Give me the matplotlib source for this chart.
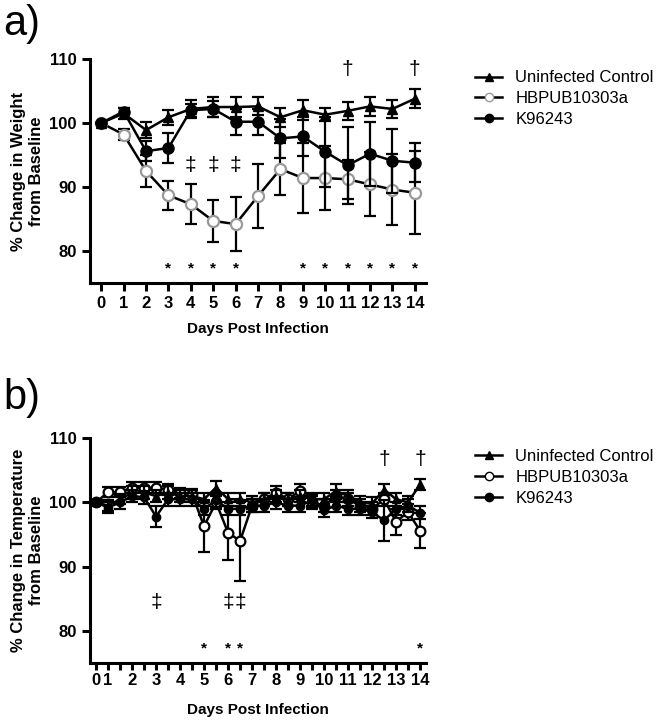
import numpy as np
import matplotlib.pyplot as plt
from matplotlib.lines import Line2D

plt.rcParams['font.family'] = ['Liberation Sans', 'DejaVu Sans']

# =========================================================
# Data: panel a (weight, daily)
# =========================================================
days_a = np.arange(0, 15)

ctrl_w = [100, 101.5, 98.9, 100.9, 102.2, 102.5, 102.5, 102.6, 100.9, 102.0, 101.3, 101.9, 102.6, 102.2, 103.8]
ctrl_w_err = [0, 0.8, 1.3, 1.2, 1.4, 1.6, 1.6, 1.4, 1.5, 1.6, 1.0, 1.4, 1.5, 1.4, 1.5]

hbp_w = [100, 98.2, 92.5, 88.7, 87.3, 84.7, 84.2, 88.6, 92.8, 91.4, 91.4, 91.2, 90.4, 89.6, 89.1]
hbp_w_err = [0, 0.8, 2.5, 2.3, 3.1, 3.3, 4.2, 5.0, 4.0, 5.5, 5.0, 3.0, 5.0, 5.5, 6.5]

k96_w = [100, 101.8, 95.6, 96.1, 102.0, 102.2, 100.2, 100.2, 97.6, 97.9, 95.5, 93.4, 95.2, 94.1, 93.8]
k96_w_err = [0, 0.6, 1.6, 2.4, 1.0, 1.3, 2.0, 2.0, 3.0, 3.0, 5.5, 6.0, 5.0, 5.0, 3.0]

dagger_a = [11, 14]
ddagger_a = [4, 5, 6]
star_a = [3, 4, 5, 6, 9, 10, 11, 12, 13, 14]

# =========================================================
# Data: panel b (temperature, twice daily)
# =========================================================
idx_b = np.arange(0, 28)
tick_lab_b = ["0", "1", "2", "3", "4", "5", "6", "7", "8", "9", "10", "11", "12", "13", "14"]
tick_pos_b = [0, 1, 3, 5, 7, 9, 11, 13, 15, 17, 19, 21, 23, 25, 27]

ctrl_t = [100, 99.5, 100.5, 101.5, 101.5, 101.0, 101.5, 101.0, 101.0, 100.5, 102.3, 100.5, 100.5, 100.0,
          100.5, 101.0, 100.5, 101.0, 100.5, 100.5, 101.8, 101.0, 100.0, 99.8, 102.0, 100.5, 100.0, 102.8]
ctrl_t_err = [0.3, 0.8, 0.8, 1.0, 1.0, 1.0, 1.0, 1.0, 1.0, 1.0, 1.0, 1.0, 1.0, 1.0,
              1.0, 1.0, 1.0, 1.0, 1.0, 1.0, 1.0, 1.0, 1.0, 1.0, 0.8, 1.0, 1.0, 0.8]

hbp_t = [100, 101.6, 101.6, 102.3, 102.3, 102.3, 102.0, 101.5, 101.3, 96.3, 100.0, 95.3, 94.0, 99.5,
         100.5, 101.5, 100.5, 101.8, 100.0, 99.5, 101.0, 100.5, 99.5, 99.0, 100.5, 97.0, 98.5, 95.6]
hbp_t_err = [0.3, 0.8, 0.8, 0.8, 0.8, 0.8, 0.8, 0.8, 0.8, 4.0, 1.0, 4.2, 6.3, 1.0,
             1.0, 1.0, 1.0, 1.0, 1.0, 1.0, 1.0, 1.0, 1.0, 1.0, 1.0, 2.0, 1.2, 2.7]

k96_t = [100, 99.2, 100.0, 101.0, 100.8, 97.8, 100.5, 100.5, 100.5, 99.0, 100.3, 99.0, 99.0, 99.5,
         99.5, 100.0, 99.5, 99.5, 100.3, 98.8, 99.5, 99.0, 99.0, 98.5, 97.2, 99.0, 99.5, 98.4]
k96_t_err = [0.3, 0.8, 1.0, 1.0, 1.0, 1.6, 1.0, 1.0, 1.0, 1.0, 1.0, 1.0, 1.0, 1.0,
             1.0, 1.0, 1.0, 1.0, 1.0, 1.0, 1.0, 1.0, 1.0, 1.0, 3.2, 1.0, 1.0, 1.0]

dagger_b = [24, 27]
ddagger_b = [5, 11, 12]
star_b = [9, 11, 12, 27]


# =========================================================
# Plot
# =========================================================
fig = plt.figure(figsize=(6.72, 7.2), dpi=100)
ax_a = fig.add_axes([0.134, 0.607, 0.5, 0.311])
ax_b = fig.add_axes([0.134, 0.079, 0.5, 0.3125])

eb = dict(capsize=4, elinewidth=1.6, capthick=1.6, linewidth=1.8, ecolor="black")


def style_axes(ax):
    for s in ["top", "right"]:
        ax.spines[s].set_visible(False)
    for s in ["left", "bottom"]:
        ax.spines[s].set_linewidth(2.2)
    ax.tick_params(direction="out", length=6, width=2.2, labelsize=12)
    ax.set_ylim(75, 110)
    ax.set_yticks([80, 90, 100, 110])
    for lab in ax.get_xticklabels() + ax.get_yticklabels():
        lab.set_fontweight("bold")


# ---- panel a
ax_a.errorbar(days_a, ctrl_w, yerr=ctrl_w_err, fmt="-^", color="black", markersize=7, zorder=4, **eb)
ax_a.errorbar(days_a, k96_w, yerr=k96_w_err, fmt="-o", color="black", markersize=8, zorder=3, **eb)
ax_a.errorbar(days_a, hbp_w, yerr=hbp_w_err, fmt="-o", color="black", markersize=8,
              markerfacecolor="white", markeredgecolor="#999999", markeredgewidth=1.6, zorder=2, **eb)
ax_a.set_xlim(-0.5, 14.5)
ax_a.set_xticks(days_a)
style_axes(ax_a)
ax_a.set_xlabel("Days Post Infection", fontsize=11, fontweight="bold", labelpad=8)
ax_a.set_ylabel("% Change in Weight\nfrom Baseline", fontsize=12, fontweight="bold")

for d in dagger_a:
    ax_a.text(d, 108.3, "\u2020", ha="center", va="center", fontsize=15)
for d in ddagger_a:
    ax_a.text(d, 93.3, "\u2021", ha="center", va="center", fontsize=15)
for d in star_a:
    ax_a.text(d, 77.3, "*", ha="center", va="center", fontsize=11, fontweight="bold")

# ---- panel b
ax_b.errorbar(idx_b, ctrl_t, yerr=ctrl_t_err, fmt="-^", color="black", markersize=6, zorder=4, **eb)
ax_b.errorbar(idx_b, k96_t, yerr=k96_t_err, fmt="-o", color="black", markersize=6, zorder=3, **eb)
ax_b.errorbar(idx_b, hbp_t, yerr=hbp_t_err, fmt="-o", color="black", markersize=7,
              markerfacecolor="white", markeredgecolor="black", markeredgewidth=1.6, zorder=2, **eb)
ax_b.set_xlim(-0.5, 27.5)
ax_b.set_xticks(idx_b, minor=False)
ax_b.set_xticklabels([""] * len(idx_b))
style_axes(ax_b)
ax_b.tick_params(axis="x", length=5)
for p, lab in zip(tick_pos_b, tick_lab_b):
    ax_b.text(p, -0.045, lab, transform=ax_b.get_xaxis_transform(), ha="center", va="top",
              fontsize=12, fontweight="bold")
ax_b.set_xlabel("Days Post Infection", fontsize=11, fontweight="bold", labelpad=20)
ax_b.set_ylabel("% Change in Temperature\nfrom Baseline", fontsize=12, fontweight="bold")

for d in dagger_b:
    ax_b.text(d, 106.7, "\u2020", ha="center", va="center", fontsize=15)
for d in ddagger_b:
    ax_b.text(d, 84.5, "\u2021", ha="center", va="center", fontsize=15)
for d in star_b:
    ax_b.text(d, 77.3, "*", ha="center", va="center", fontsize=11, fontweight="bold")

# ---- panel labels
fig.text(0.005, 0.995, "a)", fontsize=30, va="top", ha="left")
fig.text(0.005, 0.475, "b)", fontsize=30, va="top", ha="left")

# ---- legends
def make_legend(y, hbp_edge):
    handles = [
        Line2D([0], [0], color="black", marker="^", markersize=6, linewidth=1.8,
               label="Uninfected Control"),
        Line2D([0], [0], color="black", marker="o", markersize=6, linewidth=1.8,
               markerfacecolor="white", markeredgecolor=hbp_edge, label="HBPUB10303a"),
        Line2D([0], [0], color="black", marker="o", markersize=6, linewidth=1.8,
               label="K96243"),
    ]
    fig.legend(handles=handles, loc="upper left", bbox_to_anchor=(0.685, y), frameon=False,
               fontsize=12, handlelength=1.6, handletextpad=0.8, labelspacing=0.35)


make_legend(0.923, "#999999")
make_legend(0.397, "black")

plt.savefig("out.png", dpi=100)
